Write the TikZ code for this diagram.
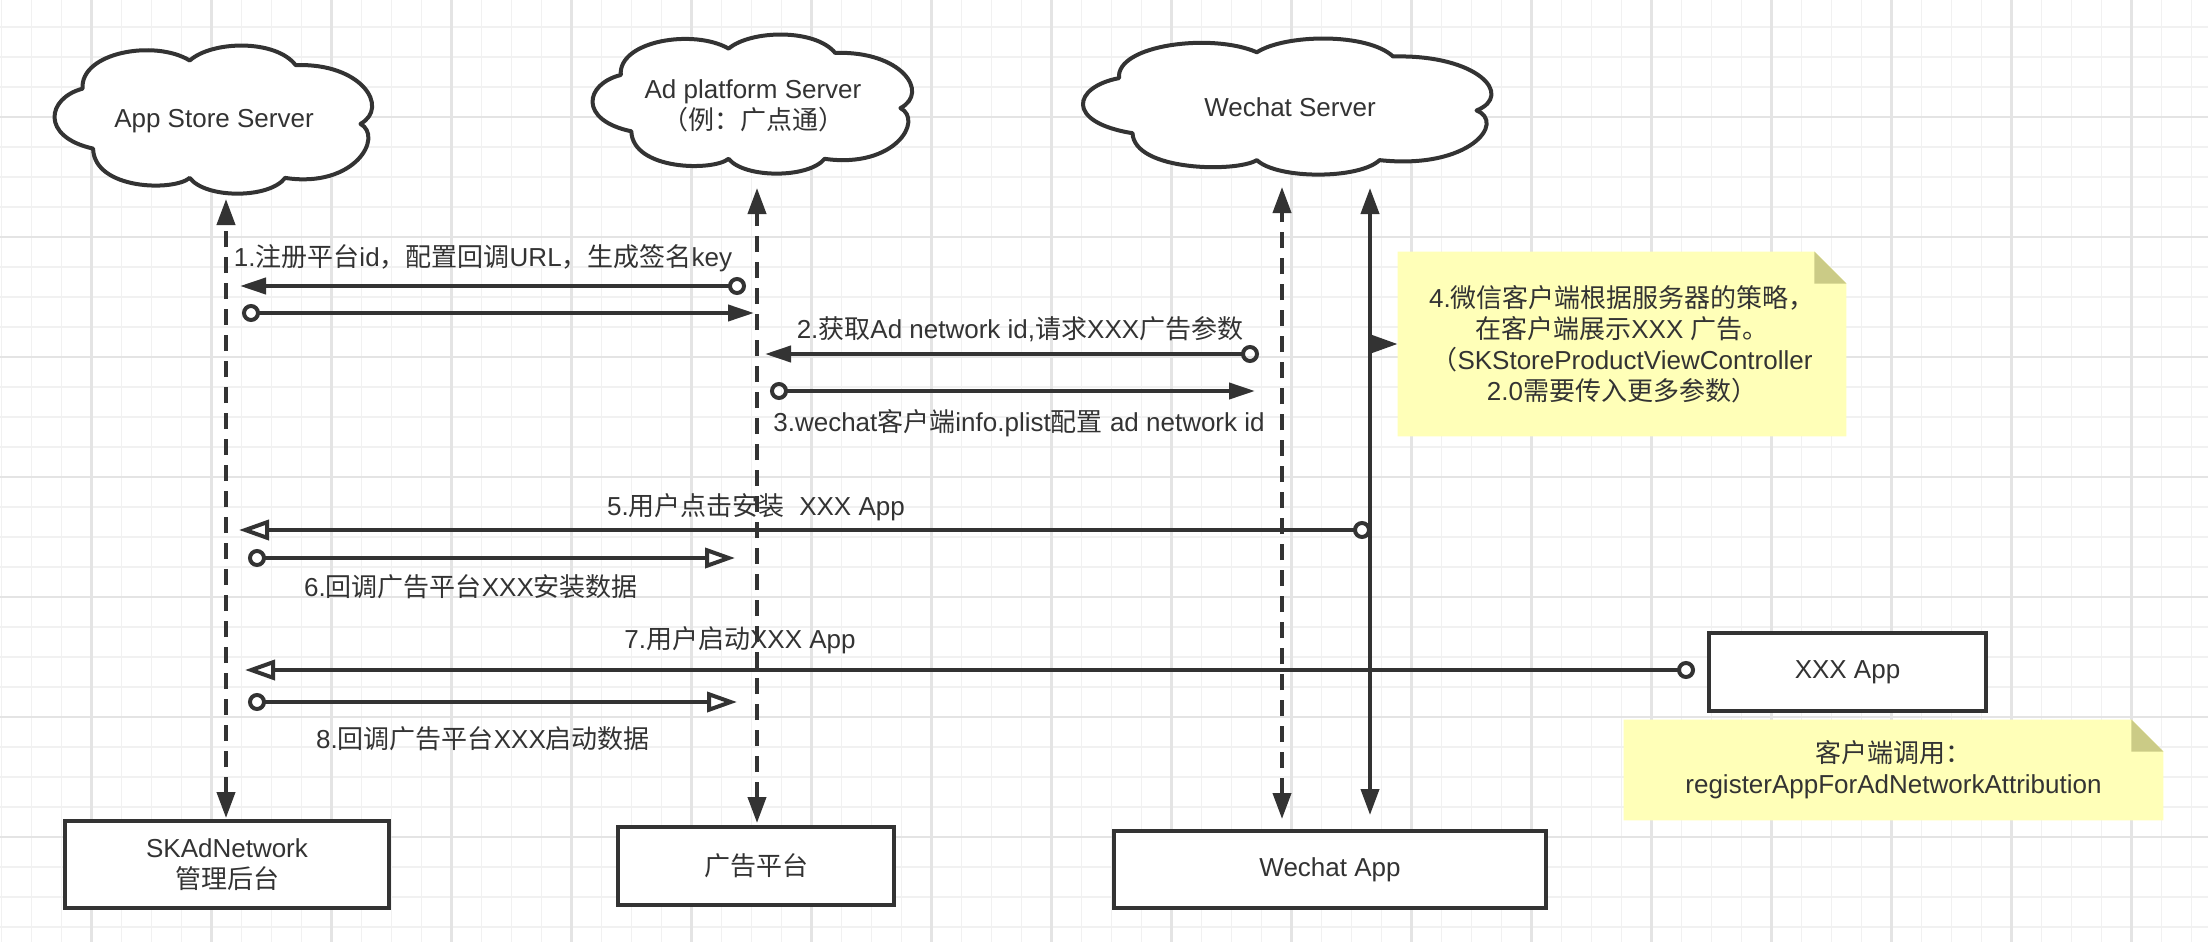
\documentclass[tikz,border=0pt]{standalone}
\usepackage{fontspec}
\setmainfont{Liberation Sans}
\newfontfamily\cjk{Noto Sans CJK SC}
\usetikzlibrary{arrows.meta,backgrounds}
\definecolor{ink}{HTML}{333333}
\definecolor{gridminor}{HTML}{F1F1F1}
\definecolor{gridmajor}{HTML}{E4E4E4}
\definecolor{notefill}{HTML}{FFFFB8}
\definecolor{notefold}{HTML}{CBCB86}
\tikzset{
  cloudline/.style={draw=ink, fill=white, line width=2pt, line join=round},
  txt/.style={text=ink, font=\fontsize{13}{15.5}\selectfont, align=center, inner sep=0pt},
  box/.style={txt, draw=ink, fill=white, line width=2pt},
  lifeline/.style={draw=ink, line width=2pt, {Triangle[length=13pt,width=9pt]}-{Triangle[length=13pt,width=9pt]}},
  dashline/.style={lifeline, dash pattern=on 8pt off 5pt},
  msgf/.style={draw=ink, line width=2pt, {Circle[open,length=9pt,width=9pt]}-{Triangle[length=13pt,width=8pt]}},
  msgo/.style={draw=ink, line width=2pt, {Circle[open,length=9pt,width=9pt]}-{Triangle[open,length=15pt,width=10pt]}},
  pointer/.style={draw=ink, line width=2pt, -{Triangle[length=13.5pt,width=9pt]}},
}
\newcommand\drawcloud[4]{%
  \begin{scope}[shift={(#1,#2)},xscale=#3,yscale=#4]
    \draw[cloudline] (0.093,0.295)
      .. controls (0.085,0.05) and (0.32,-0.04) .. (0.43,0.105)
      .. controls (0.50,-0.03) and (0.70,-0.04) .. (0.763,0.136)
      .. controls (0.97,0.12) and (1.06,0.42) .. (0.967,0.533)
      .. controls (1.04,0.62) and (0.95,0.97) .. (0.73,0.898)
      .. controls (0.68,1.04) and (0.48,1.04) .. (0.43,0.898)
      .. controls (0.38,0.99) and (0.13,0.98) .. (0.126,0.70)
      .. controls (-0.04,0.62) and (-0.02,0.36) .. (0.093,0.295) -- cycle;
  \end{scope}}
\newcommand\drawnote[1]{%
  \fill[notefill] (#1.south west) -- (#1.north west) -- ([xshift=-16pt]#1.north east)
     -- ([yshift=-16pt]#1.north east) -- (#1.south east) -- cycle;
  \fill[notefold] ([xshift=-16pt]#1.north east) -- ([xshift=-16pt,yshift=-16pt]#1.north east)
     -- ([yshift=-16pt]#1.north east) -- cycle;}
\begin{document}
\begin{tikzpicture}[x=0.5pt,y=-0.5pt]
\useasboundingbox (0,0) rectangle (2208,942);
\begin{scope}[on background layer]
  \fill[white] (0,0) rectangle (2208,942);
  \foreach \i in {0,...,73} \draw[gridminor,line width=0.8pt] ({1.5+30*\i},0) -- ({1.5+30*\i},942);
  \foreach \j in {0,...,30} \draw[gridminor,line width=0.8pt] (0,{27+30*\j}) -- (2208,{27+30*\j});
  \foreach \i in {0,...,17} \draw[gridmajor,line width=1.1pt] ({91.5+120*\i},0) -- ({91.5+120*\i},942);
  \foreach \j in {0,...,6} \draw[gridmajor,line width=1.1pt] (0,{117+120*\j}) -- (2208,{117+120*\j});
\end{scope}

% clouds
\drawcloud{53}{45}{318}{148}
\drawcloud{591}{34}{320}{139}
\drawcloud{1081}{38}{409}{136}
\node[txt] (appsrv) at (214,121) {App Store Server};
\node[txt] (adsrv) at (753,106) {Ad platform Server\\{\cjk （例：广点通）}};
\node[txt] (wxsrv) at (1290,107) {Wechat Server};

% boxes
\node[box, minimum width=162pt, minimum height=43.5pt] (skadn) at (227,864.5) {SKAdNetwork\\{\cjk 管理后台}};
\node[box, minimum width=138pt, minimum height=39pt] (adplat) at (756,866) {{\cjk 广告平台}};
\node[box, minimum width=216pt, minimum height=38.5pt] (wxapp) at (1330,869.5) {Wechat App};
\node[box, minimum width=138.5pt, minimum height=39pt] (xxxapp) at (1847.5,672) {XXX App};

% notes
\node[txt, minimum width=224pt, minimum height=92pt] (note4) at (1622,344)
  {4.{\cjk 微信客户端根据服务器的策略，}\\{\cjk 在客户端展示}XXX {\cjk 广告。}\\{\cjk （}SKStoreProductViewController\\2.0{\cjk 需要传入更多参数）}};
\node[txt, minimum width=269.5pt, minimum height=50pt] (noteb) at (1893.5,770)
  {{\cjk 客户端调用：}\\registerAppForAdNetworkAttribution};
\begin{scope}[on background layer]
  \drawnote{note4}
  \drawnote{noteb}
\end{scope}

% lifelines
\coordinate (l1t) at (226,199); \coordinate (l1b) at (226,818);
\coordinate (l2t) at (757,188); \coordinate (l2b) at (757,823);
\coordinate (l3t) at (1282,187); \coordinate (l3b) at (1282,819);
\coordinate (l4t) at (1370,188); \coordinate (l4b) at (1370,815);
\draw[dashline] (l1b) -- (l1t);
\draw[dashline] (l2b) -- (l2t);
\draw[dashline] (l3b) -- (l3t);
\draw[lifeline] (l4b) -- (l4t);
\coordinate (l4n) at (1370,344);
\draw[pointer] (l4n) -- (note4.west);

% messages
\coordinate (m1s) at (746,286);  \coordinate (m1e) at (240,286);
\coordinate (m1bs) at (242,313); \coordinate (m1be) at (754,313);
\coordinate (m2s) at (1259,354); \coordinate (m2e) at (765,354);
\coordinate (m3s) at (770,391);  \coordinate (m3e) at (1255,391);
\coordinate (m5s) at (1371,530); \coordinate (m5e) at (239,530);
\coordinate (m6s) at (248,558);  \coordinate (m6e) at (735,558);
\coordinate (m7s) at (1695,670); \coordinate (m7e) at (245,670);
\coordinate (m8s) at (248,702);  \coordinate (m8e) at (737,702);
\draw[msgf] (m1s) -- (m1e);
\draw[msgf] (m1bs) -- (m1be);
\draw[msgf] (m2s) -- (m2e);
\draw[msgf] (m3s) -- (m3e);
\draw[msgo] (m5s) -- (m5e);
\draw[msgo] (m6s) -- (m6e);
\draw[msgo] (m7s) -- (m7e);
\draw[msgo] (m8s) -- (m8e);

% labels
\node[txt] (t1) at (483,258) {1.{\cjk 注册平台}id{\cjk ，配置回调}URL{\cjk ，生成签名}key};
\node[txt] (t2) at (1020,329) {2.{\cjk 获取}Ad network id,{\cjk 请求}XXX{\cjk 广告参数}};
\node[txt] (t3) at (1019,423) {3.wechat{\cjk 客户端}info.plist{\cjk 配置} ad network id};
\node[txt] (t5) at (756,507) {5.{\cjk 用户点击安装}\ \ XXX App};
\node[txt] (t6) at (471,587) {6.{\cjk 回调广告平台}XXX{\cjk 安装数据}};
\node[txt] (t7) at (740,640) {7.{\cjk 用户启动}XXX App};
\node[txt] (t8) at (483,739) {8.{\cjk 回调广告平台}XXX{\cjk 启动数据}};
\end{tikzpicture}
\end{document}
